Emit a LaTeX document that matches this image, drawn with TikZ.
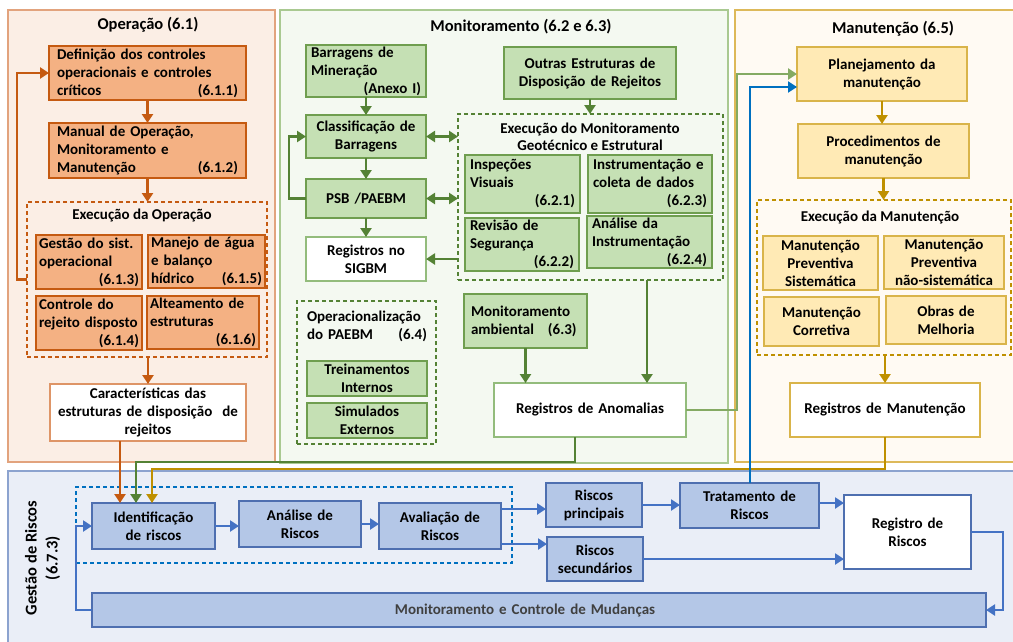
\documentclass[tikz,border=0pt]{standalone}
\usepackage{fontspec}
\setmainfont{Carlito}
\usetikzlibrary{arrows.meta}
\definecolor{opF}{HTML}{F4B183}
\definecolor{opB}{HTML}{C55A11}
\definecolor{opP}{HTML}{FBEEE5}
\definecolor{opPB}{HTML}{E2A37D}
\definecolor{opW}{HTML}{DE9567}
\definecolor{gnF}{HTML}{C5E0B4}
\definecolor{gnB}{HTML}{6F9E4F}
\definecolor{gnA}{HTML}{548235}
\definecolor{gnL}{HTML}{84AA63}
\definecolor{gnP}{HTML}{F4F9F1}
\definecolor{gnPB}{HTML}{A9C991}
\definecolor{gnW}{HTML}{93BC7C}
\definecolor{ylF}{HTML}{FFEAB5}
\definecolor{ylB}{HTML}{D9B44A}
\definecolor{ylA}{HTML}{BF9000}
\definecolor{ylP}{HTML}{FFFAF3}
\definecolor{ylPB}{HTML}{DDB95A}
\definecolor{blF}{HTML}{B4C7E7}
\definecolor{blB}{HTML}{4E6FB0}
\definecolor{blA}{HTML}{4472C4}
\definecolor{blP}{HTML}{EAEEF7}
\definecolor{blPB}{HTML}{8CA3CF}
\definecolor{blD}{HTML}{0070C0}
\definecolor{monT}{HTML}{404040}
\newcommand\mkbox[8][4]{%
  \pgfmathsetmacro\bxw{#6-#4}%
  \pgfmathsetmacro\bxh{#7-#5}%
  \pgfmathsetmacro\bxt{#6-#4-2*#1}%
  \node[#3, inner xsep=#1pt, inner ysep=0pt, minimum width=\bxw pt,
        minimum height=\bxh pt, text width=\bxt pt]
        (#2) at ({(#4+#6)/2},{(#5+#7)/2}) {#8};}
\begin{document}
\begin{tikzpicture}[x=1pt,y=-1pt,
  every node/.style={font=\bfseries\fontsize{15}{18}\selectfont, outer sep=0pt},
  title/.style={font=\bfseries\fontsize{16.5}{20}\selectfont},
  lbl/.style={align=center},
  panelO/.style={draw=opPB, fill=opP, line width=1.2pt},
  panelG/.style={draw=gnPB, fill=gnP, line width=1.2pt},
  panelY/.style={draw=ylPB, fill=ylP, line width=1.2pt},
  panelB/.style={draw=blPB, fill=blP, line width=1.2pt},
  opbox/.style={draw=opB, fill=opF, line width=1.1pt, align=left},
  opwhite/.style={draw=opW, fill=white, line width=1.1pt, align=center},
  gnbox/.style={draw=gnB, fill=gnF, line width=1.1pt, align=center},
  gnboxl/.style={gnbox, align=left},
  gnwhite/.style={draw=gnW, fill=white, line width=1.1pt, align=center},
  ylbox/.style={draw=ylB, fill=ylF, line width=1.1pt, align=center},
  ylwhite/.style={draw=ylB, fill=white, line width=1.1pt, align=center},
  blbox/.style={draw=blB, fill=blF, line width=1.1pt, align=center},
  blwhite/.style={draw=blB, fill=white, line width=1.1pt, align=center},
  dashO/.style={draw=opB, dash pattern=on 4pt off 3pt, line width=2pt},
  dashG/.style={draw=gnA, dash pattern=on 4pt off 3pt, line width=2pt},
  dashY/.style={draw=ylA, dash pattern=on 4pt off 3pt, line width=2pt},
  dashB/.style={draw=blD, dash pattern=on 4pt off 3pt, line width=2pt},
  tip/.style={-{Triangle[length=9pt,width=11pt]}},
  oarr/.style={draw=opB, line width=2.4pt, tip},
  garr/.style={draw=gnA, line width=2.4pt, tip},
  gdarr/.style={draw=gnA, line width=2.4pt, {Triangle[length=9pt,width=11pt]}-{Triangle[length=9pt,width=11pt]}},
  lgarr/.style={draw=gnL, line width=2.4pt, tip},
  yarr/.style={draw=ylA, line width=2.4pt, tip},
  barr/.style={draw=blA, line width=2.2pt, tip},
  bdarr/.style={draw=blD, line width=2pt, tip}]
\useasboundingbox (0,0) rectangle (1013,641);
\fill[white] (0,0) rectangle (1013,641);
% panels
\mkbox{pop}{panelO}{8}{10}{275}{462}{}
\mkbox{pmo}{panelG}{280}{10}{728}{463}{}
\mkbox{pma}{panelY}{735}{10}{1022}{462}{}
\mkbox{pge}{panelB}{8}{471}{1022}{652}{}
\node[title] (tOp) at (148,25) {Operação (6.1)};
\node[title] (tMo) at (521,27) {Monitoramento (6.2 e 6.3)};
\node[title] (tMa) at (893,29) {Manutenção (6.5)};
% Operacao
\mkbox[8]{def}{opbox}{49}{46}{246}{100}{Definição dos controles\\operacionais e controles\\críticos\hfill(6.1.1)}
\mkbox[8]{man}{opbox}{49}{123}{246}{178}{Manual de Operação,\\Monitoramento e\\Manutenção\hfill(6.1.2)}
\mkbox{exec}{dashO}{27}{202}{267}{357}{}
\node[lbl] (execT) at (142,215) {Execução da Operação};
\mkbox[3]{g1}{opbox}{36}{235}{142}{289}{Gestão do sist.\\operacional\\\mbox{}\hfill(6.1.3)}
\mkbox[3]{g2}{opbox}{148}{235}{265}{288}{Manejo de água\\e balanço\\hídrico\hfill(6.1.5)}
\mkbox[3]{g3}{opbox}{36}{296}{142}{350}{Controle do\\rejeito disposto\\\mbox{}\hfill(6.1.4)}
\mkbox[3]{g4}{opbox}{147}{296}{259}{349}{Alteamento de\\estruturas\\\mbox{}\hfill(6.1.6)}
\mkbox{car}{opwhite}{50}{384}{246}{441}{Características das\\estruturas de disposição~ de\\rejeitos}
% Monitoramento
\mkbox[5]{bar}{gnboxl}{306}{45}{426}{97}{Barragens de\\Mineração\\\mbox{}\hfill(Anexo I)}
\mkbox{cla}{gnbox}{306}{115}{426}{158}{Classificação de\\Barragens}
\mkbox{psb}{gnbox}{306}{179}{426}{218}{PSB /PAEBM}
\mkbox{sig}{gnwhite}{306}{237}{426}{281}{Registros no\\SIGBM}
\mkbox{out}{gnbox}{504}{47}{676}{99}{Outras Estruturas de\\Disposição de Rejeitos}
\mkbox{exm}{dashG}{458}{114}{723}{280}{}
\node[lbl, align=center] (exmT) at (590,136.5) {Execução do Monitoramento\\[-1pt]Geotécnico e Estrutural};
\mkbox[5]{i1}{gnboxl}{465}{155}{580}{213}{Inspeções\\Visuais\\\mbox{}\hfill(6.2.1)}
\mkbox[5]{i3}{gnboxl}{588}{155}{712}{213}{Instrumentação e\\coleta de dados\\\mbox{}\hfill(6.2.3)}
\mkbox[5]{i2}{gnboxl}{465}{218}{579}{271}{Revisão de\\Segurança\\\mbox{}\hfill(6.2.2)}
\mkbox[5]{i4}{gnboxl}{587}{216}{712}{268}{Análise da\\Instrumentação\\\mbox{}\hfill(6.2.4)}
\mkbox{opr}{dashG}{297}{301}{436}{444}{}
\node[text width=120pt, align=left, inner sep=0pt] (oprT) at (367,326.5) {Operacionalização\\do PAEBM\hfill(6.4)};
\mkbox[3]{tre}{gnbox}{307}{361}{427}{396}{Treinamentos\\Internos}
\mkbox[3]{sim}{gnbox}{307}{403}{427}{438}{Simulados\\Externos}
\mkbox[7]{amb}{gnboxl}{464}{294}{587}{348}{Monitoramento\\ambiental\hspace{14pt}(6.3)}
\mkbox{ano}{gnwhite}{494}{383}{686}{437}{Registros de Anomalias}
% Manutencao
\mkbox{plan}{ylbox}{797}{47}{967}{101}{Planejamento da\\manutenção}
\mkbox{proc}{ylbox}{798}{124}{969}{178}{Procedimentos de\\manutenção}
\mkbox{exma}{dashY}{757}{200}{1011}{355}{}
\node[lbl] (exmaT) at (880,217) {Execução da Manutenção};
\mkbox[2]{m1}{ylbox}{763}{236}{878}{290}{Manutenção\\Preventiva\\Sistemática}
\mkbox[2]{m2}{ylbox}{884}{236}{1004}{289}{Manutenção\\Preventiva\\não-sistemática}
\mkbox[2]{m3}{ylbox}{764}{297}{879}{346}{Manutenção\\Corretiva}
\mkbox[2]{m4}{ylbox}{886}{296}{1006}{344}{Obras de\\Melhoria}
\mkbox{reg}{ylwhite}{790}{383}{980}{437}{Registros de Manutenção}
% Gestao de riscos
\node[rotate=90, align=center, font=\bfseries\fontsize{16.5}{21}\selectfont] (gesT) at (42.5,558) {Gestão de Riscos\\(6.7.3)};
\mkbox{dsh}{dashB}{76}{487}{512}{563}{}
\mkbox{id}{blbox}{92}{503}{215}{549}{Identificação\\de riscos}
\mkbox{ana}{blbox}{239}{501}{361}{547}{Análise de\\Riscos}
\mkbox{ava}{blbox}{379}{503}{501}{549}{Avaliação de\\Riscos}
\mkbox{rp}{blbox}{546}{483}{642}{527}{Riscos\\principais}
\mkbox{rs}{blbox}{547}{537}{643}{581}{Riscos\\secundários}
\mkbox{trat}{blbox}{680}{483}{819}{528}{Tratamento de\\Riscos}
\mkbox{rr}{blwhite}{844}{495}{971}{569}{Registro de\\Riscos}
\mkbox{mon}{blbox, text=monT}{92}{593}{986}{627}{\hspace*{-28pt}Monitoramento e Controle de Mudanças}
% helper coordinates
\coordinate (ox) at (17,0);
\coordinate (ca) at (120,0);
\coordinate (gx) at (289,0);
\coordinate (ax) at (647,0);
\coordinate (mx) at (737,0);
\coordinate (gA) at (575,462);
\coordinate (gB) at (136,462);
\coordinate (yA) at (885,469);
\coordinate (yB) at (152,469);
\coordinate (rx) at (1003,0);
\coordinate (lx) at (76,0);
\coordinate (rpin) at ([yshift=-4pt]rp.west);
\coordinate (rsin) at ([yshift=-7pt]rs.north west);
\coordinate (rrin) at ([yshift=-8pt]rr.north west);
% Operacao connectors
\draw[oarr] (def.south) -- (man.north);
\draw[oarr] (man.south) -- (exec.north -| man.south);
\draw[oarr] (exec.south -| car.north) -- (car.north);
\draw[oarr] (exec.west) -- (exec.west -| ox) |- (def.west);
\draw[oarr] (car.south -| ca) -- (id.north -| ca);
% Monitoramento connectors
\draw[garr] (bar.south) -- (cla.north);
\draw[garr] (cla.south) -- (psb.north);
\draw[garr] (psb.south) -- (sig.north);
\draw[garr] (out.south) -- (out.south |- exm.north);
\draw[gdarr] (cla.east) -- (cla.east -| exm.west);
\draw[gdarr] (psb.east) -- (psb.east -| exm.west);
\draw[garr] (exm.west |- sig.east) -- (sig.east);
\draw[garr] (psb.west) -- (psb.west -| gx) |- (cla.west);
\draw[garr] (amb.south) -- (amb.south |- ano.north);
\draw[garr] (exm.south -| ax) -- (ano.north -| ax);
\draw[lgarr] (ano.east) -- (ano.east -| mx) |- (plan.west);
\draw[garr] (ano.south -| gA) -- (gA) -- (gB) -- (id.north -| gB);
% Manutencao connectors
\draw[yarr] (plan.south) -- (plan.south |- proc.north);
\draw[yarr] (proc.south) -- (proc.south |- exma.north);
\draw[yarr] (exma.south -| reg.north) -- (reg.north);
\draw[yarr] (reg.south) -- (reg.south |- yA) -- (yB) -- (id.north -| yB);
\draw[bdarr] (trat.north) |- ([yshift=-13pt]plan.west);
% Gestao connectors
\draw[barr] (id.east) -- (id.east -| ana.west);
\draw[barr] (ana.east) -- (ana.east -| ava.west);
\draw[barr] (ava.east |- rpin) -- (rpin);
\draw[barr] (ava.east |- rsin) -- (rsin);
\draw[barr] (rp.east) -- (rp.east -| trat.west);
\draw[barr] (trat.east |- rrin) -- (rrin);
\draw[barr] (rs.east) -- (rs.east -| rr.west);
\draw[barr] (rr.east) -- (rr.east -| rx) |- (mon.east);
\draw[barr] (mon.west) -- (mon.west -| lx) |- (id.west);
\end{tikzpicture}
\end{document}
